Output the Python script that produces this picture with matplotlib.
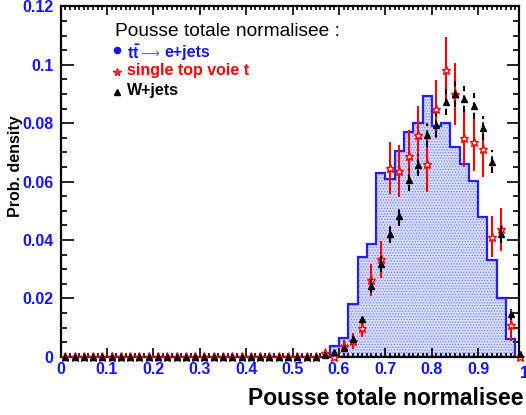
import numpy as np
import matplotlib
matplotlib.use("Agg")
import matplotlib.pyplot as plt
from matplotlib.ticker import MultipleLocator, FuncFormatter

plt.rcParams['font.family'] = ['Liberation Sans', 'DejaVu Sans']
plt.rcParams['mathtext.fontset'] = 'custom'
plt.rcParams['mathtext.rm'] = 'Liberation Sans'
plt.rcParams['mathtext.bf'] = 'Liberation Sans:bold'
plt.rcParams['hatch.linewidth'] = 0.6

# 50 bins of width 0.02 on [0, 1]
bin_edges = np.linspace(0.0, 1.0, 51)

# ttbar -> e+jets (histogram)
ttbar = [0.0] * 28 + [
    0.0, 0.0035, 0.0064, 0.018, 0.034, 0.0386, 0.063, 0.061, 0.0705, 0.077,
    0.080, 0.0895, 0.079, 0.080, 0.072, 0.066, 0.0603, 0.048, 0.033, 0.020,
    0.006, 0.0]

# single top, t-channel (points)
single_top = [0.0] * 28 + [
    0.0012, 0.0, 0.0036, 0.0055, 0.0099, 0.0263, 0.0334, 0.0647, 0.0636, 0.0687,
    0.076, 0.066, 0.0848, 0.0984, 0.090, 0.0748, 0.0734, 0.071, 0.0411, 0.0436,
    0.011, 0.0]
single_top_err = [0.0] * 28 + [
    0.0012, 0.0, 0.002, 0.0027, 0.003, 0.0055, 0.0063, 0.009, 0.0089, 0.009,
    0.0098, 0.0097, 0.010, 0.011, 0.0105, 0.0098, 0.0097, 0.0093, 0.0071, 0.0073,
    0.0055, 0.0]

# W+jets (points)
wjets = [0.0] * 28 + [
    0.0007, 0.0015, 0.003, 0.0061, 0.0128, 0.0242, 0.0317, 0.0421, 0.0482, 0.0605,
    0.0656, 0.076, 0.0794, 0.0872, 0.090, 0.0883, 0.0858, 0.0783, 0.0668, 0.0421,
    0.0145, 0.0008]
wjets_err = [0.0] * 28 + [
    0.0004, 0.0006, 0.0008, 0.0012, 0.0017, 0.0023, 0.0027, 0.003, 0.0033, 0.0037,
    0.0038, 0.0041, 0.0042, 0.0044, 0.0045, 0.0044, 0.0044, 0.0042, 0.0039, 0.0031,
    0.0018, 0.0004]

x_ticks = [0, 0.1, 0.2, 0.3, 0.4, 0.5, 0.6, 0.7, 0.8, 0.9]
y_ticks = [0, 0.02, 0.04, 0.06, 0.08, 0.1, 0.12]

centers = 0.5 * (bin_edges[:-1] + bin_edges[1:])

BLUE = '#1414ff'
W, H = 526, 415
fig = plt.figure(figsize=(W / 100, H / 100), dpi=100)
ax = fig.add_axes([60.6 / W, 1 - 356.7 / H, (519 - 60.6) / W, (356.7 - 6.5) / H])

# ttbar histogram: dotted light-blue fill plus blue outline
ax.stairs(ttbar, bin_edges, fill=True, facecolor='#d9dcfa', edgecolor='#7583f0',
          hatch='......', linewidth=0, zorder=1)
ax.stairs(ttbar, bin_edges, color='#1f1fff', linewidth=1.6, zorder=2)

# single top points with solid red error bars
eb1 = ax.errorbar(centers, single_top, yerr=single_top_err, fmt='none',
                  ecolor='red', elinewidth=1.5, capsize=0, zorder=3)
for c in eb1.get_children():
    c.set_clip_on(False)
ax.plot(centers, single_top, linestyle='none', marker='*', markersize=6.5,
        markerfacecolor='white', markeredgecolor='red', markeredgewidth=1.0,
        zorder=4, clip_on=False)

# W+jets points with dashed black error bars
eb2 = ax.errorbar(centers, wjets, yerr=wjets_err, fmt='none',
                  ecolor='black', elinewidth=1.5, capsize=0, zorder=5)
for c in eb2.get_children():
    c.set_clip_on(False)
    c.set_linestyle((0, (3, 2)))
ax.plot(centers, wjets, linestyle='none', marker='^', markersize=5,
        color='black', zorder=6, clip_on=False)

ax.set_xlim(0, (519 - 60.6) / 464.0)
ax.set_ylim(0, 0.12)

ax.set_xticks(x_ticks)
ax.set_yticks(y_ticks)
ax.xaxis.set_minor_locator(MultipleLocator(0.01))
ax.yaxis.set_minor_locator(MultipleLocator(0.005))
fmt = FuncFormatter(lambda v, p: '%g' % round(v, 4))
ax.xaxis.set_major_formatter(fmt)
ax.yaxis.set_major_formatter(fmt)

ax.tick_params(which='both', direction='in', top=True, right=True, width=1.2,
               colors='black', labelcolor=BLUE)
ax.tick_params(axis='x', which='major', length=6.5, pad=3.5)
ax.tick_params(axis='x', which='minor', length=3)
ax.tick_params(axis='y', which='major', length=9, pad=5)
ax.tick_params(axis='y', which='minor', length=4.5)
for lab in ax.get_xticklabels() + ax.get_yticklabels():
    lab.set_fontweight('bold')
    lab.set_fontsize(11.5)
for sp in ax.spines.values():
    sp.set_linewidth(1.6)

# tick label at x = 1, just past the frame edge
ax.text(1.0, -0.0033, '1', transform=ax.transData, ha='center', va='top',
        color=BLUE, fontsize=11.5, fontweight='bold', clip_on=False)

fig.text(523 / W, 1 - 398 / H, 'Pousse totale normalisee', ha='right',
         va='center', fontsize=16.5, fontweight='bold')
fig.text(16 / W, 1 - 166 / H, 'Prob. density', rotation=90, ha='center',
         va='center', fontsize=11.5, fontweight='bold')

# legend block
fig.text(115 / W, 1 - 31 / H, 'Pousse totale normalisee :', ha='left',
         va='center', fontsize=13.8)
fig.text(127 / W, 1 - 53 / H, r'$\mathbf{t\bar{t}}$', ha='left', va='center',
         fontsize=11.5, fontweight='bold', color=BLUE)
fig.text(140 / W, 1 - 54 / H, '\u27f6', ha='left', va='center',
         fontsize=9.5, family='DejaVu Sans', color='#5a64ff')
fig.text(164 / W, 1 - 53 / H, 'e+jets', ha='left', va='center',
         fontsize=11.5, fontweight='bold', color=BLUE)
fig.text(127 / W, 1 - 70 / H, 'single top voie t', ha='left', va='center',
         fontsize=11.5, fontweight='bold', color='red')
fig.text(127 / W, 1 - 91 / H, 'W+jets', ha='left', va='center',
         fontsize=11.5, fontweight='bold', color='black')
fig.lines.append(plt.Line2D([117 / W], [1 - 50 / H], transform=fig.transFigure,
                            marker='o', markersize=4.5, color=BLUE,
                            linestyle='none'))
fig.lines.append(plt.Line2D([117 / W], [1 - 72 / H], transform=fig.transFigure,
                            marker='*', markersize=5.5, markerfacecolor='white',
                            markeredgecolor='red', markeredgewidth=1.0,
                            linestyle='none'))
fig.lines.append(plt.Line2D([117 / W], [1 - 92 / H], transform=fig.transFigure,
                            marker='^', markersize=4.5, color='black',
                            linestyle='none'))

fig.savefig('out.png', dpi=100)
